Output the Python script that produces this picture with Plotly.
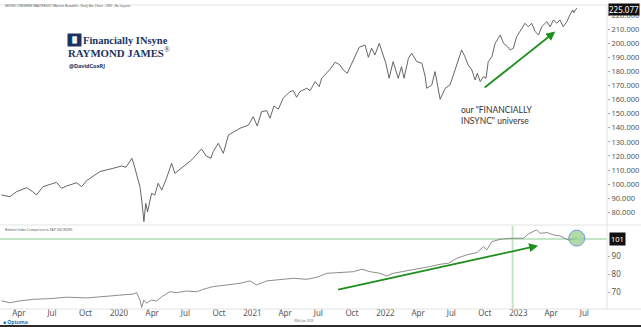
import plotly.graph_objects as go

# ---- Market breadth universe (daily bar chart, sampled closes) ----
main_dates = [
    "2019-02-26", "2019-03-21", "2019-04-08", "2019-05-06", "2019-05-23", "2019-06-02",
    "2019-06-20", "2019-07-27", "2019-08-10", "2019-08-24", "2019-09-20", "2019-10-04",
    "2019-10-18", "2019-11-23", "2019-12-30", "2020-01-22", "2020-02-03", "2020-02-19",
    "2020-02-25", "2020-03-03", "2020-03-12", "2020-03-17", "2020-03-23", "2020-03-28",
    "2020-04-02", "2020-04-13", "2020-04-22", "2020-05-01", "2020-05-11", "2020-05-24",
    "2020-06-07", "2020-06-16", "2020-07-04", "2020-08-01", "2020-08-28", "2020-09-10",
    "2020-09-23", "2020-09-29", "2020-10-13", "2020-10-27", "2020-11-10", "2020-12-12",
    "2021-01-04", "2021-01-17", "2021-01-28", "2021-02-09", "2021-02-23", "2021-03-04",
    "2021-03-15", "2021-03-27", "2021-04-09", "2021-04-28", "2021-05-07", "2021-05-16",
    "2021-05-25", "2021-06-13", "2021-06-22", "2021-07-06", "2021-07-17", "2021-07-24",
    "2021-08-16", "2021-08-30", "2021-09-12", "2021-09-21", "2021-10-02", "2021-10-19",
    "2021-11-04", "2021-11-20", "2021-11-29", "2021-12-08", "2021-12-17", "2021-12-29",
    "2022-01-07", "2022-01-16", "2022-01-25", "2022-02-05", "2022-02-19", "2022-02-28",
    "2022-03-07", "2022-03-19", "2022-03-28", "2022-04-11", "2022-04-25", "2022-05-04",
    "2022-05-08", "2022-05-22", "2022-05-31", "2022-06-06", "2022-06-14", "2022-06-28",
    "2022-07-11", "2022-07-25", "2022-08-03", "2022-08-12", "2022-08-21", "2022-08-30",
    "2022-09-09", "2022-09-18", "2022-09-24", "2022-10-02", "2022-10-11", "2022-10-18",
    "2022-10-24", "2022-11-03", "2022-11-12", "2022-11-26", "2022-12-05", "2022-12-16",
    "2022-12-23", "2023-01-01", "2023-01-10", "2023-01-24", "2023-02-02", "2023-02-11",
    "2023-02-20", "2023-03-02", "2023-03-11", "2023-03-20", "2023-04-03", "2023-04-12",
    "2023-04-21", "2023-04-30", "2023-05-09", "2023-05-18", "2023-05-28", "2023-06-05",
    "2023-06-13", "2023-06-16", "2023-06-24",
]
main_values = [
    92.3, 91.1, 94.6, 97.5, 94.6, 92.3,
    98.2, 101.3, 97.0, 98.7, 101.0, 98.2,
    102.5, 108.9, 111.3, 112.9, 112.0, 118.4,
    113.6, 106.5, 98.2, 88.7, 73.4, 86.4,
    80.4, 93.5, 92.3, 100.6, 95.8, 104.2,
    114.8, 107.7, 111.3, 117.2, 125.0, 120.0,
    118.4, 123.0, 129.0, 121.9, 134.9, 139.7,
    142.0, 147.9, 141.3, 151.5, 152.2, 146.8,
    155.5, 153.2, 161.0, 165.7, 166.4, 161.7,
    165.7, 168.1, 166.4, 172.8, 169.2, 175.2,
    181.6, 186.6, 184.6, 181.1, 178.7, 188.7,
    197.2, 198.8, 190.1, 196.5, 191.7, 200.0,
    192.9, 185.8, 175.2, 187.0, 175.2, 183.4,
    175.2, 189.4, 192.9, 187.0, 185.8, 176.3,
    168.1, 170.4, 179.9, 171.6, 160.3, 168.1,
    170.4, 181.1, 188.2, 195.3, 190.5, 184.6,
    181.1, 174.0, 178.7, 172.8, 176.3, 175.2,
    187.0, 190.5, 200.0, 205.9, 200.0, 197.6,
    195.3, 196.5, 204.7, 210.7, 214.2, 211.8,
    214.2, 208.3, 205.9, 211.8, 215.4, 211.8,
    216.6, 214.2, 216.6, 211.8, 215.4, 220.1,
    223.7, 221.8, 225.077,
]

# ---- Relative index comparison to S&P 500 ----
rel_dates = [
    "2019-02-26", "2019-03-21", "2019-04-17", "2019-05-23", "2019-07-09", "2019-08-24",
    "2019-10-18", "2019-11-24", "2020-01-08", "2020-02-23", "2020-03-03", "2020-03-12",
    "2020-03-17", "2020-03-23", "2020-03-30", "2020-04-13", "2020-04-27", "2020-05-11",
    "2020-06-02", "2020-06-21", "2020-07-18", "2020-08-15", "2020-09-02", "2020-09-29",
    "2020-11-05", "2020-12-12", "2021-01-08", "2021-01-26", "2021-02-23", "2021-03-31",
    "2021-05-07", "2021-06-13", "2021-07-11", "2021-08-07", "2021-09-12", "2021-10-19",
    "2021-11-11", "2021-12-04", "2021-12-31", "2022-01-18", "2022-02-05", "2022-03-05",
    "2022-04-01", "2022-04-20", "2022-05-17", "2022-06-14", "2022-07-07", "2022-07-30",
    "2022-08-26", "2022-09-23", "2022-10-11", "2022-10-20", "2022-11-03", "2022-11-26",
    "2022-12-23", "2023-01-29", "2023-02-11", "2023-03-06", "2023-03-15", "2023-04-03",
    "2023-04-21", "2023-05-09", "2023-06-01", "2023-06-15", "2023-06-24",
]
rel_values = [
    65.1, 64.0, 65.0, 65.9, 66.3, 67.1,
    66.7, 67.4, 68.2, 68.9, 69.7, 65.5,
    61.4, 65.5, 63.7, 65.5, 65.0, 67.4,
    70.2, 69.7, 70.6, 70.2, 71.6, 73.1,
    74.0, 75.0, 76.3, 74.0, 76.3, 77.2,
    77.8, 77.2, 78.4, 80.6, 81.0, 81.5,
    82.9, 81.5, 80.6, 79.1, 80.6, 81.5,
    82.5, 83.4, 84.4, 85.7, 86.3, 89.1,
    91.0, 92.3, 95.6, 93.8, 98.5, 99.8,
    100.4, 100.4, 102.8, 105.1, 103.2, 103.6,
    102.3, 101.7, 99.4, 99.8, 101.0,
]

# ---- Axis ticks ----
x_tick_dates = [
    "2019-04-01", "2019-07-01", "2019-10-01", "2020-01-01", "2020-04-01", "2020-07-01",
    "2020-10-01", "2021-01-01", "2021-04-01", "2021-07-01", "2021-10-01", "2022-01-01",
    "2022-04-01", "2022-07-01", "2022-10-01", "2023-01-01", "2023-04-01", "2023-07-01",
]
x_tick_labels = [
    "Apr", "Jul", "Oct", "2020", "Apr", "Jul", "Oct", "2021", "Apr", "Jul", "Oct",
    "2022", "Apr", "Jul", "Oct", "2023", "Apr", "Jul",
]
main_ticks = [80, 90, 100, 110, 120, 130, 140, 150, 160, 170, 180, 190, 200, 210, 220]
rel_ticks = [70, 80, 90]

# Reference levels / trend markers
rel_baseline = 100
rel_marker_date = "2022-12-30"
main_trend = [("2022-10-06", 166.9), ("2023-04-26", 208.3)]
rel_trend = [("2021-08-30", 71.0), ("2023-03-10", 96.2)]

W, H = 641, 327
PLOT_H = 304
X_DOMAIN_END = 607 / 641
MAIN_DOMAIN = [0.2763, 1.0]
REL_DOMAIN = [0.0, 0.273]
GRID = "#e3e3e3"
TICK_FONT = dict(family="Noto Sans", size=8, color="#555555")
NAVY = "#1d3461"
GREEN = "#1f8f1f"

fig = go.Figure()

fig.add_trace(go.Scatter(
    x=main_dates, y=main_values, mode="lines",
    line=dict(color="#555555", width=0.9), xaxis="x2", yaxis="y",
    hoverinfo="skip", showlegend=False,
))
fig.add_trace(go.Scatter(
    x=rel_dates, y=rel_values, mode="lines",
    line=dict(color="#808080", width=0.9), xaxis="x", yaxis="y2",
    hoverinfo="skip", showlegend=False,
))
# Highlight on the latest relative reading
fig.add_trace(go.Scatter(
    x=[rel_dates[-1]], y=[rel_values[-1] - 0.5], mode="markers",
    marker=dict(size=16, color="rgba(150,205,140,0.75)",
                line=dict(color="rgba(120,140,225,0.9)", width=1)),
    xaxis="x", yaxis="y2", hoverinfo="skip", showlegend=False,
))

x_range = ["2019-02-22", "2023-09-15"]
fig.update_layout(
    width=W, height=H,
    margin=dict(l=0, r=0, t=5, b=18),
    paper_bgcolor="white", plot_bgcolor="white",
    xaxis=dict(
        domain=[0, X_DOMAIN_END], anchor="free", position=2 / PLOT_H,
        type="date", range=x_range,
        tickvals=x_tick_dates, ticktext=x_tick_labels, tickfont=TICK_FONT,
        ticklabelshift=5, ticklabelstandoff=0, ticks="",
        showgrid=False, zeroline=False, showline=False,
    ),
    xaxis2=dict(
        domain=[0, X_DOMAIN_END], anchor="y", type="date", range=x_range,
        matches="x", showticklabels=False, ticks="", showgrid=False,
        zeroline=False, showline=False,
    ),
    yaxis=dict(
        domain=MAIN_DOMAIN, anchor="x2", side="right", range=[71.0, 227.2],
        tickvals=main_ticks, ticktext=[f"{v:.3f}" for v in main_ticks],
        tickfont=dict(family="Noto Sans", size=7.5, color="#555555"),
        ticks="outside", ticklen=2, tickcolor="#aaaaaa",
        showgrid=False, zeroline=False, showline=False,
    ),
    yaxis2=dict(
        domain=REL_DOMAIN, anchor="x2", side="right", range=[60.45, 107.3],
        tickvals=rel_ticks, ticktext=[str(v) for v in rel_ticks],
        tickfont=TICK_FONT, ticks="outside", ticklen=2, tickcolor="#aaaaaa",
        showgrid=False, zeroline=False, showline=False,
    ),
)

shapes = [
    # frame lines
    dict(type="line", xref="paper", yref="paper", x0=0, x1=1, y0=1, y1=1,
         line=dict(color=GRID, width=1)),
    dict(type="line", xref="paper", yref="paper", x0=0, x1=1, y0=0.2763, y1=0.2763,
         line=dict(color=GRID, width=1)),
    dict(type="line", xref="paper", yref="paper", x0=0, x1=1, y0=0, y1=0,
         line=dict(color=GRID, width=1)),
    dict(type="line", xref="paper", yref="paper", x0=X_DOMAIN_END, x1=X_DOMAIN_END,
         y0=0, y1=1, line=dict(color=GRID, width=1)),
    # parity line and marker line on the relative panel
    dict(type="line", xref="paper", yref="y2", x0=0, x1=X_DOMAIN_END,
         y0=rel_baseline, y1=rel_baseline,
         line=dict(color="rgba(150,210,150,0.55)", width=2), layer="below"),
    dict(type="line", xref="x", yref="paper", x0=rel_marker_date, x1=rel_marker_date,
         y0=0, y1=0.273, line=dict(color="rgba(150,210,150,0.55)", width=2), layer="below"),
    # bottom window edge
    dict(type="rect", xref="paper", yref="paper", x0=0, x1=1, y0=-0.0592, y1=-0.0527,
         fillcolor="#2a2a2a", line=dict(width=0)),
]
fig.update_layout(shapes=shapes)

ann = []
# trend arrows
for (t0, v0), (t1, v1), xr, yr in [(main_trend[0], main_trend[1], "x2", "y"),
                                   (rel_trend[0], rel_trend[1], "x", "y2")]:
    ann.append(dict(x=t1, y=v1, ax=t0, ay=v0, xref=xr, yref=yr, axref=xr, ayref=yr,
                    showarrow=True, arrowhead=2, arrowsize=1, arrowwidth=1.8,
                    arrowcolor=GREEN, text=" "))

# last value tags
ann.append(dict(x=X_DOMAIN_END, y=main_values[-1] - 1.3, xref="paper", yref="y",
                xanchor="left", yanchor="middle", xshift=1, showarrow=False,
                text="225.077", bgcolor="#111111", borderpad=0,
                font=dict(family="Noto Sans", size=8, color="white")))
ann.append(dict(x=X_DOMAIN_END, y=rel_values[-1] - 1.0, xref="paper", yref="y2",
                xanchor="left", yanchor="middle", xshift=2, showarrow=False,
                text="101", bgcolor="#111111", borderpad=1,
                font=dict(family="Noto Sans", size=7.5, color="white")))

# commentary
ann.append(dict(x=459 / W, y=1 - (115.5 - 5) / PLOT_H, xref="paper", yref="paper",
                xanchor="left", yanchor="middle", showarrow=False,
                text='our "FINANCIALLY<br>INSYNC" universe', align="left",
                font=dict(family="Lato", size=8.5, color="#333333")))

# titles
ann.append(dict(x=3 / W, y=1.0, xref="paper", yref="paper", xanchor="left", yanchor="middle",
                yshift=-1, showarrow=False,
                text="INSYNC UNIVERSE MASTERLIST (Market Breadth) - Daily Bar Chart - USD - No Layout",
                font=dict(family="Noto Sans", size=3.2, color="#555555")))
ann.append(dict(x=3 / W, y=0.2763, xref="paper", yref="paper", xanchor="left", yanchor="top",
                yshift=-1, showarrow=False,
                text="Relative Index Comparison to S&P 500 INDEX",
                font=dict(family="Noto Sans", size=3.2, color="#555555")))

# branding block
ann.append(dict(x=67 / W, y=1 - (40 - 5) / PLOT_H, xref="paper", yref="paper",
                xanchor="left", yanchor="middle", showarrow=False,
                text="<b>\u2590\u258c</b>", bgcolor=NAVY, borderpad=2,
                font=dict(family="DejaVu Sans", size=6, color="white")))
ann.append(dict(x=81 / W, y=1 - (40.5 - 5) / PLOT_H, xref="paper", yref="paper",
                xanchor="left", yanchor="middle", showarrow=False,
                text="<b>Financially INsyne</b>",
                font=dict(family="Liberation Serif", size=10.5, color=NAVY)))
ann.append(dict(x=66 / W, y=1 - (51.5 - 5) / PLOT_H, xref="paper", yref="paper",
                xanchor="left", yanchor="middle", showarrow=False,
                text="<b>RAYMOND JAMES</b><sup>®</sup>",
                font=dict(family="Liberation Serif", size=10.8, color=NAVY)))
ann.append(dict(x=67 / W, y=1 - (65.7 - 5) / PLOT_H, xref="paper", yref="paper",
                xanchor="left", yanchor="middle", showarrow=False,
                text="<b>@DavidCoxRJ</b>",
                font=dict(family="Noto Sans", size=5.5, color=NAVY)))

# footer
ann.append(dict(x=1 / W, y=-13 / PLOT_H, xref="paper", yref="paper", xanchor="left",
                yanchor="middle", showarrow=False, text="<b>\u25a0 Optuma</b>",
                font=dict(family="Noto Sans", size=5, color="#2a6fb5")))
ann.append(dict(x=0.475, y=-12 / PLOT_H, xref="paper", yref="paper", xanchor="center",
                yanchor="middle", showarrow=False, text="30th Jun 2023",
                font=dict(family="Noto Sans", size=3, color="#666666")))

fig.update_layout(annotations=ann)

fig.write_html("out.html")
